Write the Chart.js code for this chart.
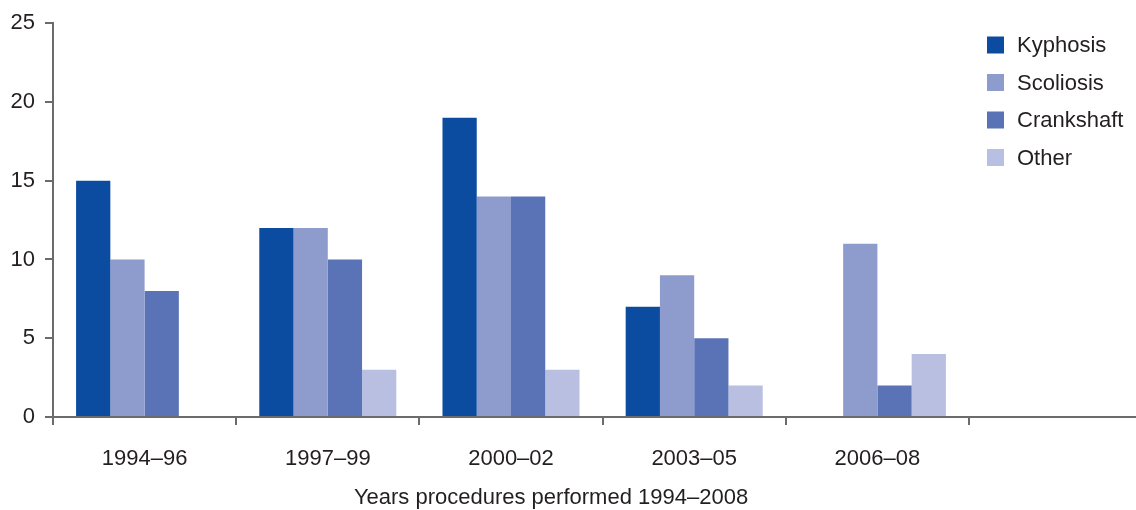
<!DOCTYPE html>
<html>
<head>
<meta charset="utf-8">
<script src="https://cdn.jsdelivr.net/npm/chart.js@4/dist/chart.umd.min.js"></script>
<style>
  html, body { margin: 0; padding: 0; background: #fff; }
  #wrap { width: 1136px; height: 510px; }
</style>
</head>
<body>
<div id="wrap"><canvas id="chart"></canvas></div>
<script>
// Data
const periods = ["1994–96", "1997–99", "2000–02", "2003–05", "2006–08"];
const kyphosis = [15, 12, 19, 7, 0];
const scoliosis = [10, 12, 14, 9, 11];
const crankshaft = [8, 10, 14, 5, 2];
const other = [0, 3, 3, 2, 4];
const xTitle = "Years procedures performed 1994–2008";

const FONT = "'Liberation Sans', Arial, sans-serif";
const TEXT = "#231f20";
const AXIS = "#6b6b6b";

// x axis line keeps going to the right edge, past the last category,
// and the axis title sits a little right of the plot centre
const axisTail = {
    id: "axisTail",
    afterDraw(chart) {
        const { ctx, chartArea } = chart;
        ctx.save();
        ctx.strokeStyle = AXIS;
        ctx.lineWidth = 2;
        ctx.beginPath();
        ctx.moveTo(chartArea.right, chartArea.bottom);
        ctx.lineTo(chart.width, chartArea.bottom);
        ctx.stroke();

        ctx.font = "22px " + FONT;
        ctx.fillStyle = TEXT;
        ctx.textAlign = "center";
        ctx.textBaseline = "middle";
        ctx.fillText(xTitle, 551, 498);
        ctx.restore();
    }
};

// legend in the top right corner
const sideLegend = {
    id: "sideLegend",
    afterDraw(chart) {
        const ctx = chart.ctx;
        ctx.save();
        ctx.font = "22px " + FONT;
        ctx.textBaseline = "middle";
        chart.data.datasets.forEach((ds, i) => {
            const y = 45 + i * 37.5;
            ctx.fillStyle = ds.backgroundColor;
            ctx.fillRect(987, y - 8.5, 17, 17);
            ctx.fillStyle = TEXT;
            ctx.fillText(ds.label, 1017, y + 1);
        });
        ctx.restore();
    }
};

new Chart(document.getElementById("chart"), {
    type: "bar",
    data: {
        labels: periods,
        datasets: [
            { label: "Kyphosis", data: kyphosis, backgroundColor: "#0c4ca0" },
            { label: "Scoliosis", data: scoliosis, backgroundColor: "#8e9bcd" },
            { label: "Crankshaft", data: crankshaft, backgroundColor: "#5a73b6" },
            { label: "Other", data: other, backgroundColor: "#b9bfe0" }
        ]
    },
    options: {
        responsive: true,
        maintainAspectRatio: false,
        animation: false,
        datasets: {
            bar: { barPercentage: 1, categoryPercentage: 0.748, borderWidth: 0 }
        },
        layout: { padding: { top: 20, right: 167, left: 0, bottom: 0 } },
        plugins: {
            legend: { display: false },
            tooltip: { enabled: false }
        },
        scales: {
            x: {
                grid: { drawOnChartArea: false, drawTicks: true, tickLength: 8, color: AXIS, lineWidth: 2 },
                border: { color: AXIS, width: 2 },
                ticks: { color: TEXT, font: { family: FONT, size: 22 }, padding: 21, maxRotation: 0 },
                afterFit: s => { s.height = 93; }
            },
            y: {
                min: 0,
                max: 25,
                grid: { drawOnChartArea: false, drawTicks: true, tickLength: 8, color: AXIS, lineWidth: 2 },
                border: { color: AXIS, width: 2 },
                ticks: { stepSize: 5, color: TEXT, font: { family: FONT, size: 22 }, padding: 10 },
                afterFit: s => { s.width = 53; }
            }
        }
    },
    plugins: [axisTail, sideLegend]
});
</script>
</body>
</html>
